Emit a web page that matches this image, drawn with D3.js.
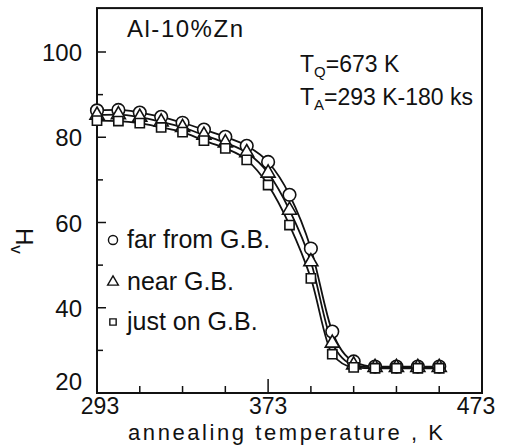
<!DOCTYPE html>
<html>
<head>
<meta charset="utf-8">
<script src="https://cdn.jsdelivr.net/npm/d3@7"></script>
<style>
  html, body { margin: 0; padding: 0; background: #fff; }
  svg { display: block; }
  text { font-family: "Liberation Sans", Arial, sans-serif; fill: #111; }
</style>
</head>
<body>
<svg id="chart" width="505" height="446"></svg>
<script>
// ---- data ----
const temps   = [293, 303, 313, 323, 333, 343, 353, 363, 373, 383, 393, 403, 413, 423, 433, 443, 453];
const farGB   = [86.3, 86.4, 85.8, 84.8, 83.4, 81.8, 80.1, 78.0, 74.2, 66.5, 53.9, 34.4, 27.4, 26.2, 26.2, 26.2, 26.2];
const nearGB  = [85.2, 85.3, 84.7, 83.6, 82.3, 80.5, 78.7, 76.4, 71.6, 62.9, 50.8, 31.7, 26.6, 26.0, 26.0, 26.0, 26.0];
const onGB    = [83.9, 83.8, 83.3, 82.3, 81.2, 79.2, 77.4, 74.7, 68.8, 59.4, 46.9, 29.1, 26.0, 25.8, 25.8, 25.8, 25.8];
const xTicks  = [293, 313, 333, 353, 373, 393, 413, 433, 453, 473];
const xLabels = [293, 373, 473];
const yTicks  = [20, 30, 40, 50, 60, 70, 80, 90, 100, 110];
const yLabels = [20, 40, 60, 80, 100];
const legendLabels = ["far from G.B.", "near G.B.", "just on G.B."];

// ---- layout ----
const svg = d3.select("#chart");
const x = d3.scaleLinear().domain([293, 473]).range([97, 482]);
const y = d3.scaleLinear().domain([20, 100]).range([393, 52]);
const yTop = 110.3;

const ink = "#111";

// frame
svg.append("rect")
  .attr("x", x(293)).attr("y", y(yTop))
  .attr("width", x(473) - x(293)).attr("height", y(20) - y(yTop))
  .attr("fill", "none").attr("stroke", ink).attr("stroke-width", 2);

// x ticks (inward)
svg.append("g").selectAll("line").data(xTicks).join("line")
  .attr("x1", d => x(d)).attr("x2", d => x(d))
  .attr("y1", y(20)).attr("y2", d => y(20) - (d === 373 ? 14 : 7))
  .attr("stroke", ink).attr("stroke-width", 1.5);

// y ticks (inward)
svg.append("g").selectAll("line").data(yTicks.filter(d => d > 20 && d < 110)).join("line")
  .attr("x1", x(293)).attr("x2", d => x(293) + (d % 20 === 0 ? 9 : 6))
  .attr("y1", d => y(d)).attr("y2", d => y(d))
  .attr("stroke", ink).attr("stroke-width", 1.5);

// x labels
svg.append("g").selectAll("text").data(xLabels).join("text")
  .attr("x", d => x(d) + (d === 293 ? 3 : (d === 473 ? -6 : 0)))
  .attr("y", 414)
  .attr("text-anchor", "middle")
  .attr("font-size", 23)
  .text(d => d);

// y labels
svg.append("g").selectAll("text").data(yLabels).join("text")
  .attr("x", 82)
  .attr("y", d => d === 20 ? y(d) - 3 : y(d) + 9)
  .attr("text-anchor", "end")
  .attr("font-size", 24)
  .text(d => d);

// axis titles
svg.append("text")
  .attr("x", 128).attr("y", 440)
  .attr("font-size", 22)
  .attr("textLength", 315).attr("lengthAdjust", "spacing")
  .text("annealing temperature , K");

const hv = svg.append("text")
  .attr("transform", "translate(16,228) rotate(90)")
  .attr("font-size", 24);
hv.append("tspan").text("H");
hv.append("tspan").attr("dy", 5).attr("font-size", 17).text("v");

// annotations
svg.append("text").attr("x", 127).attr("y", 37).attr("font-size", 24)
  .attr("textLength", 116).attr("lengthAdjust", "spacing").text("Al-10%Zn");

const tq = svg.append("text").attr("x", 300).attr("y", 72).attr("font-size", 23);
tq.append("tspan").text("T");
tq.append("tspan").attr("dy", 5).attr("font-size", 15).text("Q");
tq.append("tspan").attr("dy", -5).text("=673 K");

const ta = svg.append("text").attr("x", 300).attr("y", 105).attr("font-size", 23);
ta.append("tspan").text("T");
ta.append("tspan").attr("dy", 5).attr("font-size", 15).text("A");
ta.append("tspan").attr("dy", -5).text("=293 K-180 ks");

// ---- curves ----
const series = [
  { values: farGB,  shape: "circle" },
  { values: nearGB, shape: "triangle" },
  { values: onGB,   shape: "square" }
];

const line = d3.line()
  .x((d, i) => x(temps[i]))
  .y(d => y(d))
  .curve(d3.curveMonotoneX);

svg.append("g").selectAll("path").data(series).join("path")
  .attr("d", s => line(s.values))
  .attr("fill", "none").attr("stroke", ink).attr("stroke-width", 1.8);

const symbolFor = {
  circle: d3.symbol().type(d3.symbolCircle).size(125),
  triangle: d3.symbol().type(d3.symbolTriangle).size(85),
  square: d3.symbol().type(d3.symbolSquare).size(85)
};

series.forEach(s => {
  svg.append("g").selectAll("path").data(s.values).join("path")
    .attr("transform", (d, i) => `translate(${x(temps[i])},${y(d)})`)
    .attr("d", symbolFor[s.shape]())
    .attr("fill", "#fff").attr("stroke", ink).attr("stroke-width", 1.6);
});

// ---- legend ----
const legendY = [240, 282, 322];
const legendSym = {
  circle: d3.symbol().type(d3.symbolCircle).size(65),
  triangle: d3.symbol().type(d3.symbolTriangle).size(50),
  square: d3.symbol().type(d3.symbolSquare).size(40)
};
const lg = svg.append("g");
series.forEach((s, i) => {
  lg.append("path")
    .attr("transform", `translate(113,${legendY[i]})`)
    .attr("d", legendSym[s.shape]())
    .attr("fill", "#fff").attr("stroke", ink).attr("stroke-width", 1.4);
  lg.append("text")
    .attr("x", 127).attr("y", legendY[i] + 8)
    .attr("font-size", 25)
    .text(legendLabels[i]);
});
</script>
</body>
</html>
